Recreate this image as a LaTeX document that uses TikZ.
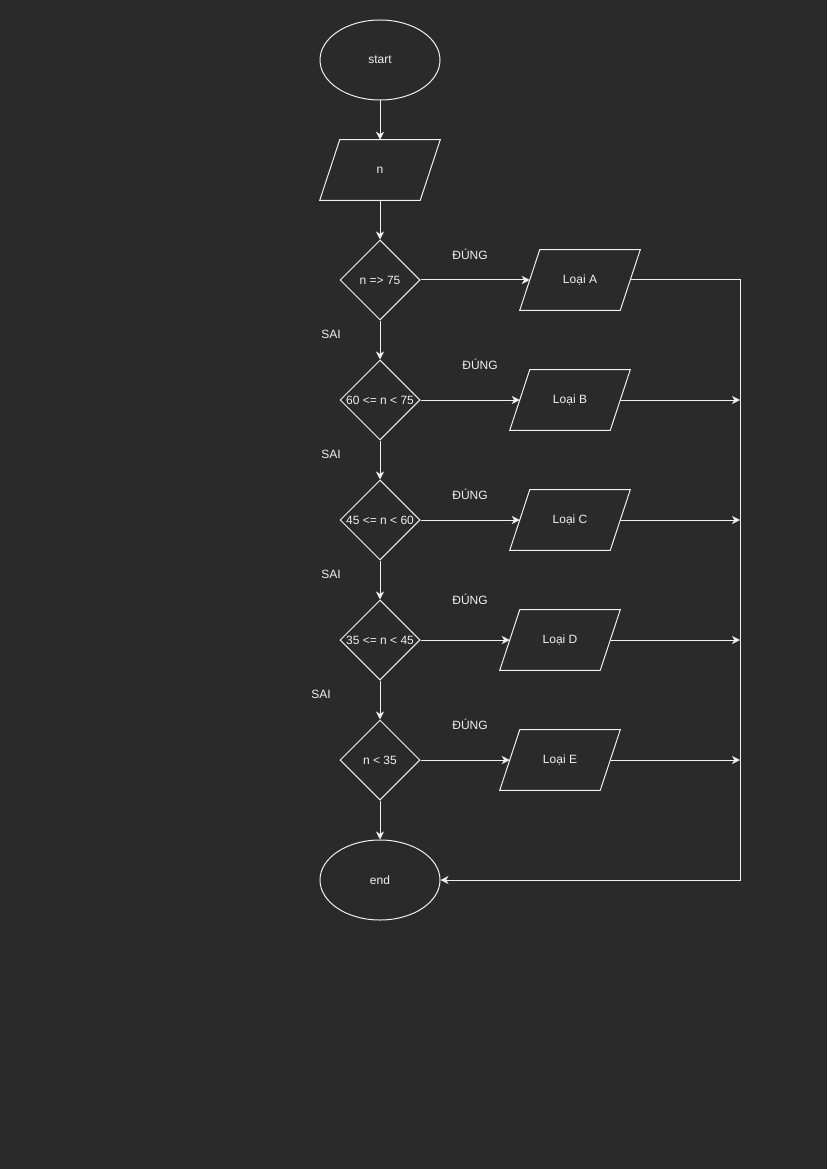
\documentclass[tikz,border=0pt]{standalone}
\usepackage{fontspec}
\setmainfont{Liberation Sans}
\usetikzlibrary{shapes.geometric,arrows.meta,calc}
\definecolor{bg}{HTML}{2A2A2A}
\definecolor{fg}{HTML}{F0F0F0}
\begin{document}
\begin{tikzpicture}[x=0.75pt,y=-0.75pt,
  every node/.style={text=fg,font=\fontsize{9}{11}\selectfont},
  term/.style={draw=fg,line width=0.75pt,ellipse,minimum width=90pt,minimum height=60pt,inner sep=0pt},
  dec/.style={draw=fg,line width=0.75pt,diamond,minimum width=60pt,minimum height=60pt,inner sep=0pt},
  io/.style={minimum width=75pt,minimum height=45pt,inner sep=0pt},
  conn/.style={draw=fg,line width=0.75pt,-{Stealth[length=6pt,width=6pt,inset=1.8pt]}},
  plain/.style={draw=fg,line width=0.75pt},
  lbl/.style={inner sep=0pt}]
\fill[bg] (0,0) rectangle (827,1169);
\useasboundingbox (0,0) rectangle (827,1169);
% nodes
\node[term] (start) at (380,60) {start};
\node[io] (n) at (380,170) {n};
\node[dec] (d1) at (380,280) {\makebox[0pt]{n =\textgreater{} 75}};
\node[dec] (d2) at (380,400) {\makebox[0pt]{60 \textless= n \textless{} 75}};
\node[dec] (d3) at (380,520) {\makebox[0pt]{45 \textless= n \textless{} 60}};
\node[dec] (d4) at (380,640) {\makebox[0pt]{35 \textless= n \textless{} 45}};
\node[dec] (d5) at (380,760) {\makebox[0pt]{n \textless{} 35}};
\node[term] (end) at (380,880) {end};
\node[io] (la) at (580,280) {Loại A};
\node[io] (lb) at (570,400) {Loại B};
\node[io] (lc) at (570,520) {Loại C};
\node[io] (ld) at (560,640) {Loại D};
\node[io] (le) at (560,760) {Loại E};
% parallelogram outlines
\foreach \p in {n,la,lb,lc,ld,le}{
  \draw[plain] ([xshift=7.5pt]\p.north west) -- ([xshift=7.5pt]\p.north east)
    -- ([xshift=-7.5pt]\p.south east) -- ([xshift=-7.5pt]\p.south west) -- cycle;
}
\coordinate (r) at (740,280);
% labels
\node[lbl] (t1) at (470,254) {ĐÚNG};
\node[lbl] (t2) at (480,364) {ĐÚNG};
\node[lbl] (t3) at (470,494) {ĐÚNG};
\node[lbl] (t4) at (470,599) {ĐÚNG};
\node[lbl] (t5) at (470,724) {ĐÚNG};
\node[lbl] (f1) at (331,334) {SAI};
\node[lbl] (f2) at (331,454) {SAI};
\node[lbl] (f3) at (331,574) {SAI};
\node[lbl] (f4) at (321,694) {SAI};
% connectors
\draw[conn] (start) -- (n);
\draw[conn] (n) -- (d1);
\draw[conn] (d1) -- (d2);
\draw[conn] (d2) -- (d3);
\draw[conn] (d3) -- (d4);
\draw[conn] (d4) -- (d5);
\draw[conn] (d5) -- (end);
\draw[conn] (d1.east) -- (la.west);
\draw[conn] (d2.east) -- (lb.west);
\draw[conn] (d3.east) -- (lc.west);
\draw[conn] (d4.east) -- (ld.west);
\draw[conn] (d5.east) -- (le.west);
\draw[conn] (la.east) -- (r) |- (end.east);
\draw[conn] (lb.east) -- (lb.east -| r);
\draw[conn] (lc.east) -- (lc.east -| r);
\draw[conn] (ld.east) -- (ld.east -| r);
\draw[conn] (le.east) -- (le.east -| r);
\end{tikzpicture}
\end{document}
